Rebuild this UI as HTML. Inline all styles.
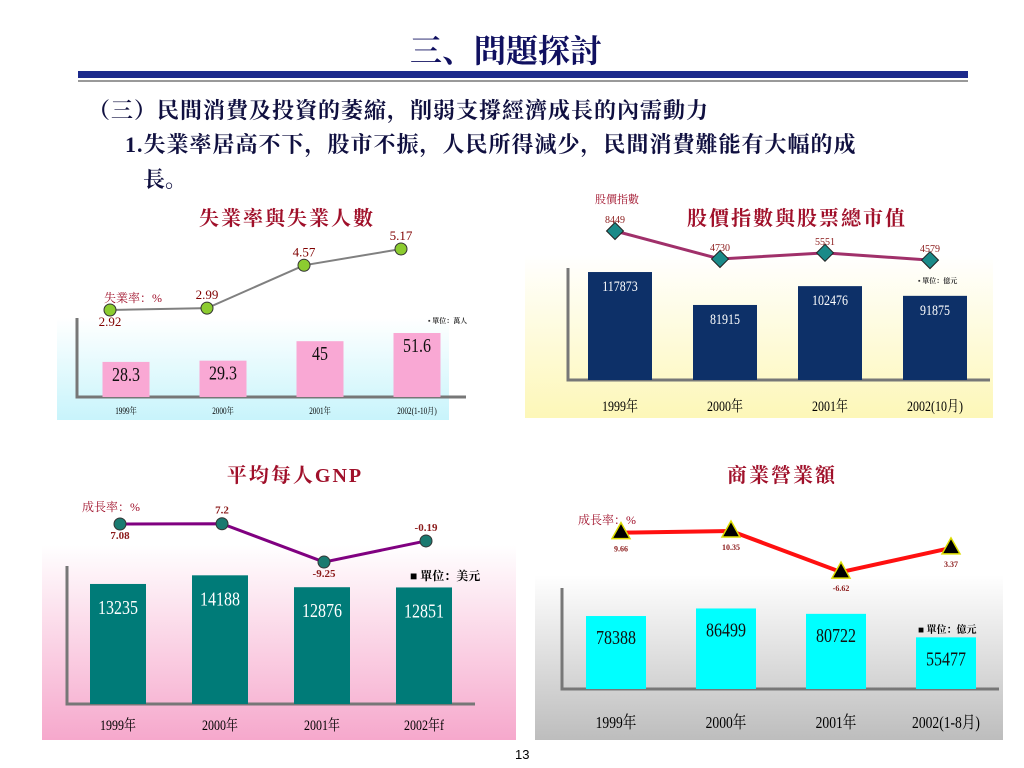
<!DOCTYPE html>
<html><head><meta charset="utf-8">
<style>
body{margin:0;width:1024px;height:768px;background:#fff;overflow:hidden;font-family:"Liberation Serif","Noto Serif CJK SC",serif;position:relative}
.t{position:absolute;white-space:nowrap}
</style></head>
<body>
<div class="t" style="left:410px;top:26px;font-size:32px;font-weight:bold;color:#101060;font-family:'Liberation Serif','Noto Serif CJK SC',serif">三、問題探討</div>
<div style="position:absolute;left:78px;top:71px;width:890px;height:7px;background:#1c2a8c"></div>
<div style="position:absolute;left:78px;top:80px;width:890px;height:2px;background:#999"></div>
<div class="t" style="left:88px;top:94px;font-size:22px;font-weight:bold;color:#101040;letter-spacing:1px">（三）民間消費及投資的萎縮，削弱支撐經濟成長的內需動力</div>
<div class="t" style="left:125px;top:128px;font-size:22px;font-weight:bold;color:#101040;letter-spacing:1px">1.失業率居高不下，股市不振，人民所得減少，民間消費難能有大幅的成</div>
<div class="t" style="left:143px;top:163px;font-size:22px;font-weight:bold;color:#101040">長。</div>
<div class="t" style="left:515px;top:747px;font-size:13px;font-family:'Liberation Sans',sans-serif">13</div>

<svg id="s" width="1024" height="768" style="position:absolute;left:0;top:0">
<defs>
<linearGradient id="g1" x1="0" y1="0" x2="0" y2="1"><stop offset="0" stop-color="#fff"/><stop offset="1" stop-color="#c8f4fb"/></linearGradient>
<linearGradient id="g2" x1="0" y1="0" x2="0" y2="1"><stop offset="0" stop-color="#fff"/><stop offset="1" stop-color="#fdf7b8"/></linearGradient>
<linearGradient id="g3" x1="0" y1="0" x2="0" y2="1"><stop offset="0" stop-color="#fff"/><stop offset="1" stop-color="#f6a8cc"/></linearGradient>
<linearGradient id="g4" x1="0" y1="0" x2="0" y2="1"><stop offset="0" stop-color="#fff"/><stop offset="1" stop-color="#bdbdbd"/></linearGradient>
</defs>
</svg>
<script>
// Chart 1: unemployment
const c1Cats=["1999年","2000年","2001年","2002(1-10月)"];
const c1Bars=[28.3,29.3,45,51.6];
const c1Line=[2.92,2.99,4.57,5.17];
// Chart 2: stock index & market cap
const c2Cats=["1999年","2000年","2001年","2002(10月)"];
const c2Bars=[117873,81915,102476,91875];
const c2Line=[8449,4730,5551,4579];
// Chart 3: GNP per capita
const c3Cats=["1999年","2000年","2001年","2002年f"];
const c3Bars=[13235,14188,12876,12851];
const c3Line=[7.08,7.2,-9.25,-0.19];
// Chart 4: commerce revenue
const c4Cats=["1999年","2000年","2001年","2002(1-8月)"];
const c4Bars=[78388,86499,80722,55477];
const c4Line=[9.66,10.35,-6.62,3.37];

const svg=document.getElementById('s');
const NS='http://www.w3.org/2000/svg';
function mk(tag,at,parent){const e=document.createElementNS(NS,tag);for(const k in at)e.setAttribute(k,at[k]);(parent||svg).appendChild(e);return e;}
function tx(x,y,str,size,fill,anchor,weight,parent){const e=mk('text',{x:x,y:y,'font-size':size,fill:fill,'text-anchor':anchor||'middle','font-weight':weight||'normal','font-family':'"Liberation Serif","Noto Serif CJK SC",serif'},parent);e.textContent=str;return e;}

function chart(o,cats,bars,line){
  const g=mk('g',{});
  
  
  const p=mk('rect',{x:o.px,y:o.py,width:o.pw,height:o.ph,fill:o.grad},g);
  
  
  const ax=mk('path',{d:`M${o.ax} ${o.ay} L${o.ax} ${o.base} L${o.ax2} ${o.base}`,stroke:'#777',fill:'none','stroke-width':3},g);
  
  
  const xs=i=>o.x0+i*o.step;
  const yb=v=>o.base-v*o.bs;
  const yl=v=>o.l0-(v-o.lref)*o.ls;
  bars.forEach((v,i)=>{
    const r=mk('rect',{x:xs(i)-o.bw/2,y:yb(v),width:o.bw,height:o.base-yb(v),fill:o.barc},g);
    
    
    const t=tx(xs(i),yb(v)+o.vOff,String(v),o.vSize,o.vColor,'middle','normal',g);
    
    
    t.setAttribute('transform',`translate(${xs(i)},0) scale(0.8,1) translate(${-xs(i)},0)`);
    const c=tx(xs(i),o.catY,cats[i],o.catSize,'#000','middle','normal',g);
    
    
    c.setAttribute('transform',`translate(${xs(i)},0) scale(0.8,1) translate(${-xs(i)},0)`);
  });
  const pts=line.map((v,i)=>[xs(i)+o.lx,yl(v)]);
  const pl=mk('polyline',{points:pts.map(p=>p.join(',')).join(' '),stroke:o.lc,'stroke-width':o.lw,fill:'none'},g);
  
  
  pts.forEach((p,i)=>{
    let m;
    if(o.marker==='circle') m=mk('circle',{cx:p[0],cy:p[1],r:6,fill:o.mc,stroke:'#333','stroke-width':1},g);
    else if(o.marker==='diamond') m=mk('rect',{x:p[0]-6,y:p[1]-6,width:12,height:12,fill:o.mc,stroke:'#222',transform:`rotate(45 ${p[0]} ${p[1]})`},g);
    else m=mk('polygon',{points:`${p[0]},${p[1]-10} ${p[0]-9},${p[1]+6} ${p[0]+9},${p[1]+6}`,fill:'#000',stroke:'#dd0','stroke-width':1.5},g);
    
    
    const t=tx(p[0],p[1]+(o.lblBelow[i]?o.lblDn:-o.lblUp),String(line[i]),o.lblSize,o.lblColor,'middle',o.lblWeight,g);
    
    
  });
  return g;
}

chart({name:'unemployment-chart',px:57,py:318,pw:392,ph:102,grad:'url(#g1)',ax:77,ay:318,ax2:466,base:397,
  x0:126,step:97,bw:47,bs:1.24,barc:'#f9a8d4',vOff:19,vSize:20,vColor:'#111',catY:414,catSize:9,
  l0:310,lref:2.92,ls:27.1,lx:-16,lc:'#808080',lw:2,marker:'circle',mc:'#8ccc30',lblBelow:[1,0,0,0],lblUp:9,lblDn:16,lblSize:13,lblColor:'#800000',lblWeight:'normal'},c1Cats,c1Bars,c1Line);

chart({name:'stock-chart',px:525,py:255,pw:468,ph:163,grad:'url(#g2)',ax:568,ay:268,ax2:990,base:380,
  x0:620,step:105,bw:64,bs:0.000916,barc:'#0d3068',vOff:19,vSize:15,vColor:'#fff',catY:411,catSize:15,
  l0:231,lref:8449,ls:0.00753,lx:-5,lc:'#a0306a',lw:3,marker:'diamond',mc:'#1a8a88',lblBelow:[0,0,0,0],lblUp:8,lblDn:0,lblSize:10,lblColor:'#8b1a1a',lblWeight:'normal'},c2Cats,c2Bars,c2Line);

chart({name:'gnp-chart',px:42,py:545,pw:474,ph:195,grad:'url(#g3)',ax:67,ay:566,ax2:475,base:704,
  x0:118,step:102,bw:56,bs:0.00907,barc:'#007b78',vOff:30,vSize:20,vColor:'#fff',catY:730,catSize:15,
  l0:524,lref:7.08,ls:2.33,lx:2,lc:'#800080',lw:3,marker:'circle',mc:'#1a7a70',lblBelow:[1,0,1,0],lblUp:10,lblDn:15,lblSize:11,lblColor:'#8b1a1a',lblWeight:'bold'},c3Cats,c3Bars,c3Line);

chart({name:'commerce-chart',px:535,py:575,pw:468,ph:165,grad:'url(#g4)',ax:562,ay:588,ax2:999,base:689,
  x0:616,step:110,bw:60,bs:0.000931,barc:'#00ffff',vOff:28,vSize:20,vColor:'#111',catY:728,catSize:17,
  l0:531,lref:10.35,ls:2.42,lx:5,lc:'#ff1010',lw:4,marker:'triangle',mc:'#000',lblBelow:[1,1,1,1],lblUp:0,lblDn:19,lblSize:8,lblColor:'#8b1a1a',lblWeight:'bold'},c4Cats,c4Bars,c4Line);

// titles & annotations
const red='#a0102a';
[[287,225,'失業率與失業人數',20],[797,225,'股價指數與股票總市值',20],[295,482,'平均每人GNP',20],[782,482,'商業營業額',20]].forEach(a=>{
  const t=tx(a[0],a[1],a[2],a[3],red,'middle','bold');
  
  
  t.setAttribute('letter-spacing','2');
});
[[104,302,'失業率：%',12,'start'],[595,203,'股價指數',11,'start'],[82,511,'成長率：%',12,'start'],[578,524,'成長率：%',12,'start']].forEach(a=>{
  const t=tx(a[0],a[1],a[2],a[3],red,a[4],'normal');
  
  
});
[[428,323,'▪ 單位：萬人',7,'#333'],[918,283,'▪ 單位：億元',7,'#333'],[410,580,'■ 單位：美元',12,'#000'],[918,633,'■ 單位：億元',10,'#000']].forEach(a=>{
  const t=tx(a[0],a[1],a[2],a[3],a[4],'start','bold');
  
  
});
</script>
</body></html>
